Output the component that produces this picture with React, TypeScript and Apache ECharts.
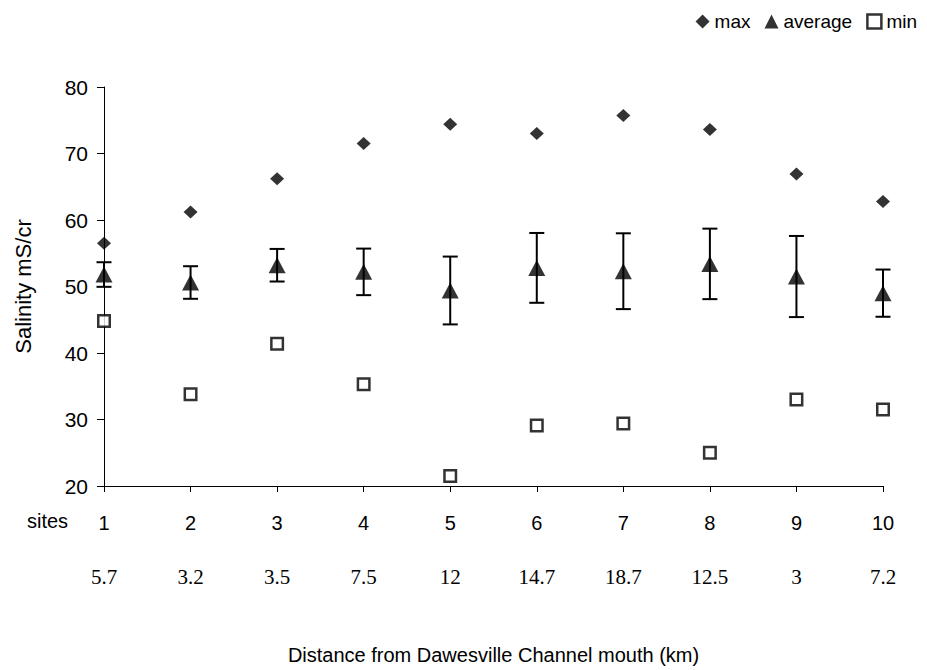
import React, { useEffect, useRef } from "react";
import * as echarts from "echarts";

const siteLabels = ["1", "2", "3", "4", "5", "6", "7", "8", "9", "10"];
const distanceLabels = ["5.7", "3.2", "3.5", "7.5", "12", "14.7", "18.7", "12.5", "3", "7.2"];
const maxValues = [56.5, 61.2, 66.2, 71.5, 74.4, 73.0, 75.7, 73.6, 66.9, 62.8];
const avgValues = [51.8, 50.6, 53.2, 52.2, 49.4, 52.8, 52.3, 53.4, 51.5, 49.0];
const errValues = [1.85, 2.45, 2.45, 3.5, 5.1, 5.25, 5.7, 5.3, 6.1, 3.55];
const minValues = [44.8, 33.8, 41.4, 35.3, 21.5, 29.1, 29.4, 25.0, 33.0, 31.5];
const yTicks = { min: 20, max: 80, interval: 10 };

const SANS = "'Liberation Sans', Arial, sans-serif";
const SERIF = "'Liberation Serif', 'Times New Roman', serif";

export default function App() {
  const ref = useRef<HTMLDivElement>(null);
  useEffect(() => {
    if (!ref.current) return;
    const chart = echarts.init(ref.current, null, { renderer: "svg" });
    const xs = siteLabels.map((_, i) => i + 1);
    const option = {
      animation: false,
      backgroundColor: "#fff",
      grid: { left: 104, right: 44, top: 87, bottom: 183, containLabel: false },
      legend: {
        right: 5,
        top: 7,
        itemWidth: 14,
        itemHeight: 14,
        itemGap: 14,
        textStyle: { fontFamily: SANS, fontSize: 19, color: "#000" },
        data: [
          { name: "max", icon: "diamond", itemStyle: { color: "#000" } },
          { name: "average", icon: "triangle", itemStyle: { color: "#000" } },
          { name: "min", icon: "rect", itemStyle: { color: "#fff", borderColor: "#000", borderWidth: 2.5 } },
        ],
      },
      graphic: [
        {
          type: "text",
          left: 27,
          top: 511,
          style: { text: "sites", fontFamily: SANS, fontSize: 20, fill: "#000" },
        },
      ],
      xAxis: [
        {
          type: "value",
          min: 1,
          max: 10,
          interval: 1,
          name: "Distance from Dawesville Channel mouth (km)",
          nameLocation: "middle",
          nameGap: 159,
          nameTextStyle: { fontFamily: SANS, fontSize: 20, color: "#000" },
          axisLine: { show: true, lineStyle: { color: "#000", width: 1 } },
          axisTick: { show: true, length: 6, lineStyle: { color: "#000" } },
          splitLine: { show: false },
          axisLabel: {
            margin: 27,
            fontFamily: SANS,
            fontSize: 20,
            color: "#000",
            formatter: (v: number) => siteLabels[Math.round(v) - 1] ?? "",
          },
        },
        {
          type: "value",
          min: 1,
          max: 10,
          interval: 1,
          position: "bottom",
          offset: 72,
          axisLine: { show: false },
          axisTick: { show: false },
          splitLine: { show: false },
          axisLabel: {
            margin: 8,
            fontFamily: SERIF,
            fontSize: 21,
            color: "#000",
            formatter: (v: number) => distanceLabels[Math.round(v) - 1] ?? "",
          },
        },
      ],
      yAxis: {
        type: "value",
        min: yTicks.min,
        max: yTicks.max,
        interval: yTicks.interval,
        name: "Salinity mS/cr",
        nameLocation: "middle",
        nameGap: 70,
        nameTextStyle: { fontFamily: SANS, fontSize: 22, color: "#000" },
        axisLine: { show: true, lineStyle: { color: "#000", width: 1 } },
        axisTick: { show: true, length: 7, lineStyle: { color: "#000" } },
        splitLine: { show: false },
        axisLabel: { margin: 16, fontFamily: SANS, fontSize: 21, color: "#000" },
      },
      series: [
        {
          name: "error",
          type: "custom",
          xAxisIndex: 0,
          data: xs.map((x, i) => [x, avgValues[i] - errValues[i], avgValues[i] + errValues[i]]),
          encode: { x: 0, y: [1, 2] },
          z: 1,
          renderItem: (params: any, api: any) => {
            const x = api.value(0);
            const lo = api.coord([x, api.value(1)]);
            const hi = api.coord([x, api.value(2)]);
            const w = 7.5;
            const style = { stroke: "#000", lineWidth: 2 };
            return {
              type: "group",
              children: [
                { type: "line", shape: { x1: lo[0], y1: lo[1], x2: hi[0], y2: hi[1] }, style },
                { type: "line", shape: { x1: hi[0] - w, y1: hi[1], x2: hi[0] + w, y2: hi[1] }, style },
                { type: "line", shape: { x1: lo[0] - w, y1: lo[1], x2: lo[0] + w, y2: lo[1] }, style },
              ],
            };
          },
        },
        {
          name: "max",
          type: "scatter",
          symbol: "diamond",
          symbolSize: [14, 13],
          itemStyle: { color: "#000" },
          data: xs.map((x, i) => [x, maxValues[i]]),
          z: 3,
        },
        {
          name: "average",
          type: "scatter",
          symbol: "triangle",
          symbolSize: [17, 16],
          itemStyle: { color: "#000" },
          data: xs.map((x, i) => [x, avgValues[i]]),
          z: 3,
        },
        {
          name: "min",
          type: "scatter",
          symbol: "rect",
          symbolSize: 11.5,
          itemStyle: { color: "#fff", borderColor: "#000", borderWidth: 2.5 },
          data: xs.map((x, i) => [x, minValues[i]]),
          z: 3,
        },
      ],
    };
    chart.setOption(option as any);
    return () => chart.dispose();
  }, []);
  return (
    <div
      ref={ref}
      style={{ position: "fixed", left: 0, top: 0, width: 927, height: 670, background: "#fff" }}
    />
  );
}
